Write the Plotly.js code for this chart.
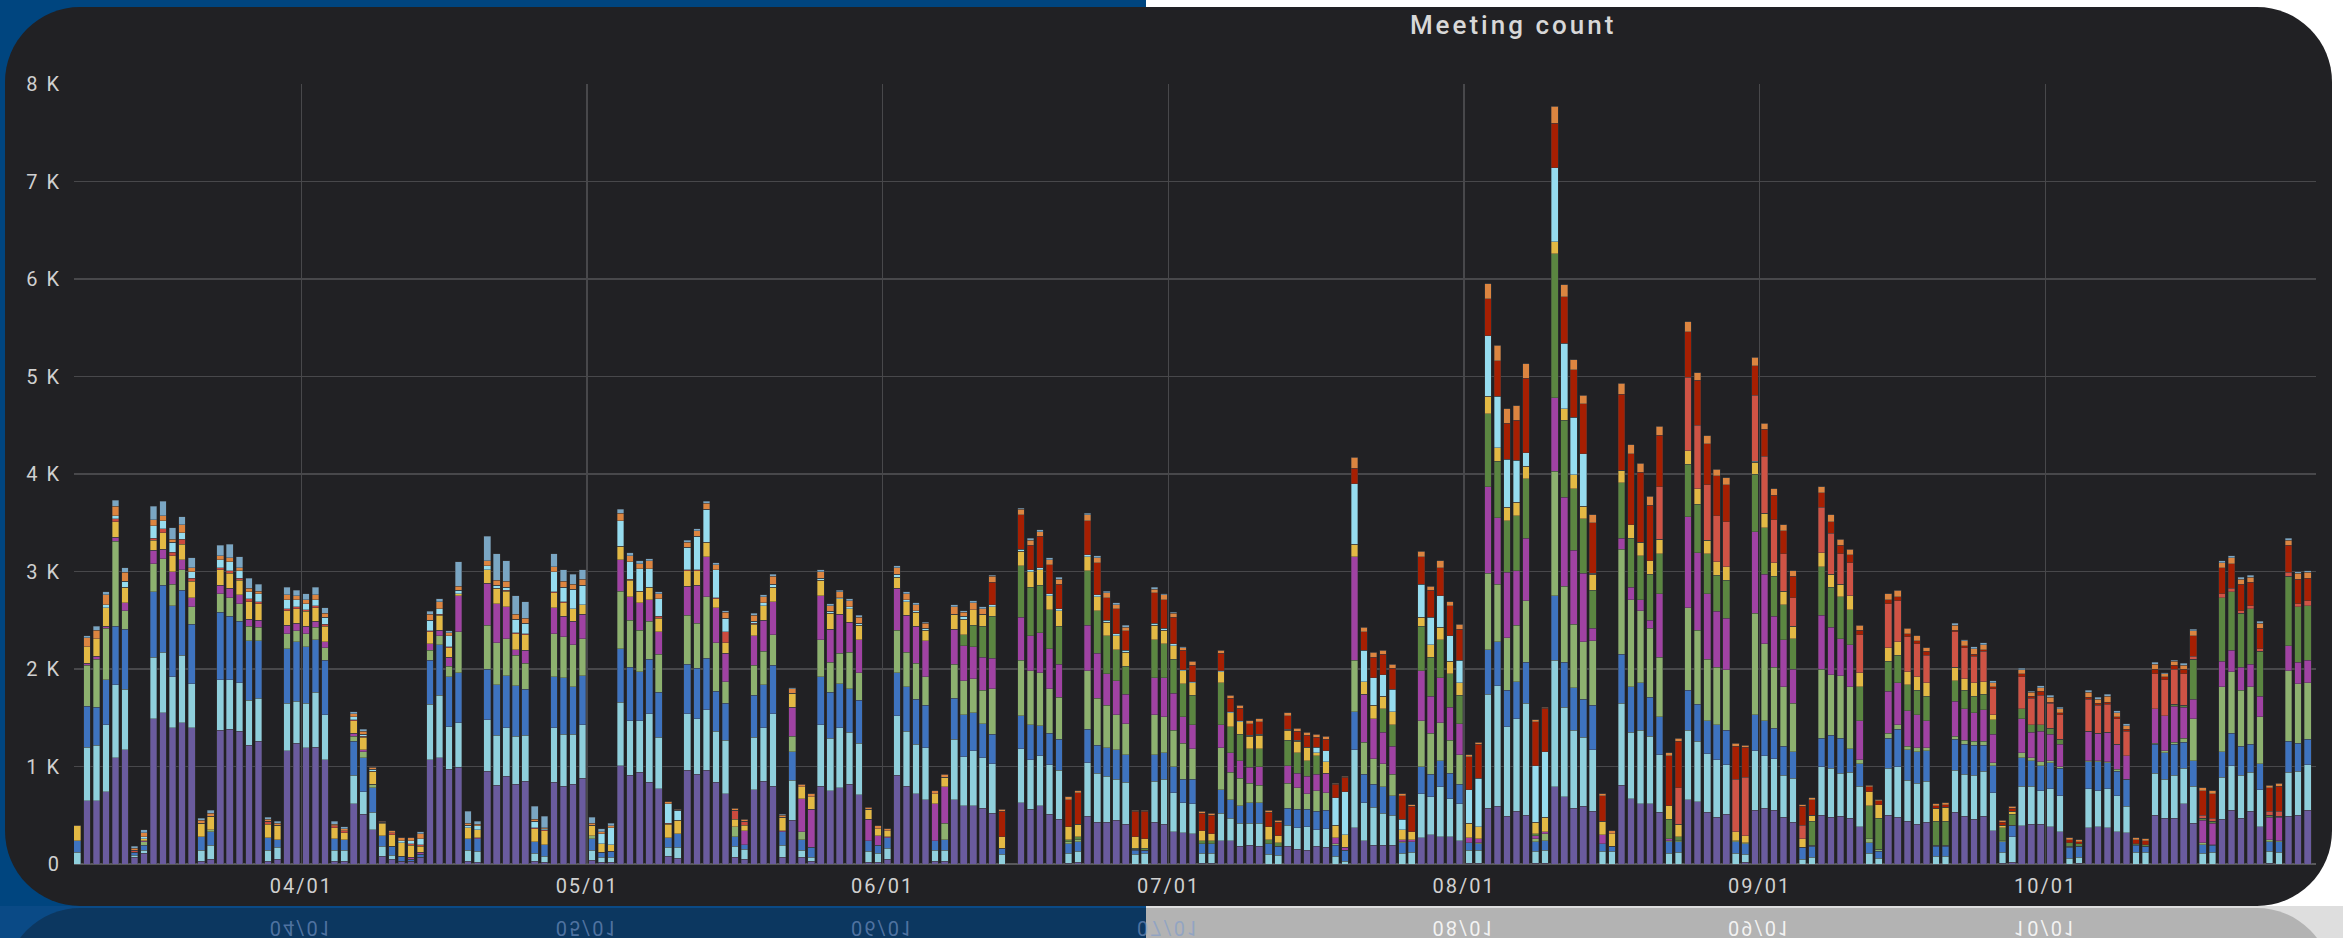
<!DOCTYPE html>
<html>
<head>
<meta charset="utf-8">
<script src="https://cdn.plot.ly/plotly-3.0.1.min.js"></script>
<style>
html,body{margin:0;padding:0;width:2343px;height:938px;overflow:hidden;}
body{position:relative;background:linear-gradient(to right,#00457f 0,#00457f 1146px,#ffffff 1146px,#ffffff 100%);font-family:Roboto,sans-serif;}
#band{position:absolute;left:0;top:906px;width:2343px;height:32px;background:linear-gradient(to right,#0a4a86 0,#0a4a86 1146px,#dedede 1146px,#dedede 100%);}
#refl{position:absolute;left:5px;top:908px;width:2327px;height:80px;border-radius:75px 75px 0 0;background:linear-gradient(to right,#0c3760 0,#0c3760 1141px,#b3b3b3 1141px,#b3b3b3 100%);}
#card{position:absolute;left:5px;top:7px;width:2327px;height:899px;border-radius:75px;background:#212124;}
#chart{position:absolute;left:0;top:0;width:2343px;height:938px;}
#chart .xtick text, #chart .ytick text{letter-spacing:2px;}
#chart .gtitle{letter-spacing:3px;}
.mir{position:absolute;transform:scaleY(-1);white-space:nowrap;font-family:Roboto,sans-serif;letter-spacing:2px;}
</style>
</head>
<body>
<div id="band"></div>
<div id="refl"></div>
<div id="card"></div>
<div id="chart"></div>
<script>
// First day of the daily series (one value per day)
const START_DATE = [2020, 2, 8]; // 2020-03-08

// Daily meeting counts per stacked series (bottom to top)
const purple = [
  0,650,650,740,1090,1170,70,110,1490,1550,1400,1450,1400,30,50,1370,1380,1360,1220,1260,30,50,1160,1240, // Mar 8-31
  1190,1200,1070,30,30,620,510,350,80,50,30,30,70,1070,1090,970,990,30,20,950,810,900,820,850,30,20,840,800,820,880, // Apr
  40,20,20,1010,910,940,840,770,80,60,960,920,960,840,720,70,50,760,850,800,70,450,70,30,800,750,780,820,710,20,20, // May
  50,910,800,720,660,30,30,660,600,600,570,520,0,0,630,560,600,510,460,10,20,490,430,430,450,410,0,0,430,410, // Jun
  330,320,310,10,10,240,240,180,190,180,0,0,180,150,140,180,170,0,0,370,240,190,190,190,0,0,270,300,280,280,240, // Jul
  10,10,570,590,490,540,500,10,10,790,690,570,590,540,0,0,810,670,620,620,530,0,0,660,640,530,480,510,0,20,550, // Aug
  570,550,480,430,0,0,500,480,490,470,380,0,0,500,480,440,410,430,0,0,530,490,460,490,340,10,20,390,410,410, // Sep
  380,330,0,10,370,380,370,330,320,0,0,500,470,470,620,420,0,0,460,550,470,540,380,10,0,490,500,550 // Oct 1-28
];
const paleCyan = [
  120,550,570,690,750,620,20,30,630,620,520,690,450,110,140,520,510,500,460,440,110,120,490,430,
  460,560,460,110,110,290,230,180,100,40,0,0,0,570,640,440,460,110,110,530,510,500,490,470,80,60,560,530,510,550,
  100,50,50,650,560,530,700,530,90,110,580,570,620,520,550,110,100,540,550,740,120,410,70,40,630,540,620,530,530,110,90,
  110,610,560,510,530,110,110,620,500,560,520,510,100,0,550,510,510,510,500,100,110,550,500,470,420,430,100,110,420,460,
  400,310,310,100,100,280,230,240,230,240,100,90,220,220,240,170,190,80,30,800,390,390,330,310,110,120,450,390,510,390,380,
  130,130,1170,1240,920,950,1150,120,130,1300,920,800,710,630,130,130,840,680,750,690,590,110,120,710,620,600,590,510,110,80,610,
  540,530,430,450,50,70,500,500,440,470,420,110,60,480,520,420,420,420,80,80,430,430,450,460,390,110,260,410,390,340,
  390,370,60,60,400,370,400,370,270,120,120,430,400,440,360,380,110,120,430,460,440,400,380,120,120,450,450,470
];
const blue = [
  120,420,390,460,600,620,30,50,670,690,730,670,610,140,140,690,650,630,610,590,130,80,560,610,
  580,540,560,120,110,350,350,250,110,90,50,20,30,450,520,510,510,120,130,520,520,530,520,470,120,120,520,580,490,500,
  120,50,60,550,550,500,560,460,100,140,510,520,530,410,380,100,50,430,440,500,140,290,110,100,490,470,450,450,440,110,80,
  110,440,460,460,440,100,110,420,430,390,350,300,60,0,340,360,310,320,320,100,100,340,290,290,300,280,40,30,270,270,
  270,240,250,100,100,240,190,180,210,210,110,90,170,190,180,190,190,110,110,390,290,240,270,200,110,110,280,230,270,260,200,
  80,70,460,450,370,380,420,100,100,660,460,440,390,460,80,50,500,470,490,400,390,120,110,410,380,340,360,350,120,110,370,
  360,310,300,270,120,110,290,340,360,240,230,110,70,310,380,310,320,310,100,100,320,310,310,270,280,110,110,290,260,260,
  270,280,110,110,280,300,270,250,280,70,60,300,270,320,270,260,90,70,260,330,300,290,270,100,110,320,290,260
];
const lightGreen = [
  0,420,490,530,870,190,0,40,290,270,220,210,180,0,20,190,190,180,150,140,0,0,150,110,
  130,130,130,0,0,50,60,40,0,0,0,0,0,100,90,110,420,0,0,450,430,380,310,270,0,0,440,420,430,380,
  30,0,0,590,480,430,390,390,0,0,500,460,630,500,220,100,0,310,340,310,0,160,80,0,380,310,310,370,280,0,0,
  0,440,350,370,290,0,170,350,350,350,340,470,0,0,570,550,540,460,430,20,20,600,480,440,360,320,10,0,410,370,
  370,370,310,0,0,430,280,280,200,180,0,0,260,220,160,210,180,20,0,530,330,260,240,220,10,0,470,420,390,340,300,
  0,10,780,590,540,580,630,30,70,1280,780,650,590,660,0,0,1080,890,740,710,610,10,10,850,760,630,590,620,10,10,1040,
  790,630,610,500,0,10,710,620,640,640,40,40,20,50,50,40,40,30,10,10,30,40,40,40,30,10,10,50,30,40,
  20,20,10,0,10,10,10,20,0,10,0,10,20,20,40,430,20,10,670,630,570,590,480,20,10,720,610,580
];
const magenta = [
  0,20,30,20,40,80,0,10,140,100,130,100,90,0,0,90,100,90,70,70,0,0,90,80,
  80,60,60,0,0,30,20,0,0,0,0,20,20,70,60,90,370,0,10,430,400,330,60,130,0,0,270,210,240,250,
  0,0,0,320,240,280,220,230,0,0,300,390,410,360,290,0,140,300,320,340,10,300,340,390,450,340,400,310,340,220,100,
  10,430,380,380,370,380,370,360,360,330,340,310,0,0,440,360,410,410,340,0,0,470,460,320,350,300,0,0,380,400,
  380,270,250,0,0,240,200,180,160,190,0,0,180,150,180,170,200,60,30,1060,490,410,320,290,20,20,510,380,460,340,320,
  50,40,890,680,670,560,640,30,20,750,910,760,700,130,90,0,110,130,110,80,650,20,0,930,790,670,570,530,0,0,840,
  710,520,480,350,0,0,550,490,380,430,400,0,0,430,430,360,340,280,0,0,360,320,290,320,290,0,0,350,260,310,
  270,230,0,0,300,280,300,260,240,0,0,350,360,370,320,200,230,220,260,220,240,230,210,230,240,260,220,230
];
const darkGreen = [
  0,0,0,0,0,0,0,0,0,0,0,0,0,0,0,0,0,0,0,0,0,0,0,0,
  0,0,0,0,0,0,0,0,0,0,0,0,0,0,0,0,0,0,0,0,0,0,0,0,0,0,0,0,0,0,
  0,0,0,0,0,0,0,0,0,0,0,0,0,0,0,0,0,0,0,0,0,0,0,0,0,0,0,0,0,0,0,
  0,0,0,0,0,0,0,0,110,220,320,430,0,0,530,500,490,400,390,20,30,560,440,390,320,290,10,20,390,350,
  350,340,300,30,30,430,270,270,190,180,40,40,260,210,160,190,0,0,0,0,0,0,240,220,0,0,460,400,390,340,290,
  0,0,750,580,530,560,610,20,0,1480,790,630,560,390,0,0,570,500,450,470,410,200,40,540,500,410,370,390,0,0,590,
  480,410,360,310,0,250,500,410,430,360,350,340,320,310,280,270,250,250,250,250,210,190,170,160,150,130,110,100,80,70,
  60,50,40,30,0,0,0,0,0,10,20,0,0,20,20,410,20,20,650,600,550,570,460,20,10,710,570,560
];
const yellow = [
  150,170,180,190,160,160,0,20,100,170,160,160,170,140,140,160,150,150,180,170,140,140,150,150,
  150,140,160,110,70,130,130,130,130,120,140,120,60,120,150,100,20,110,80,140,160,160,160,160,130,140,150,140,130,100,
  110,90,70,140,170,120,130,140,140,140,160,150,150,90,110,80,60,120,150,150,140,140,120,130,160,160,160,140,150,100,70,
  60,110,140,140,110,100,100,150,160,160,120,100,120,0,150,160,160,140,160,130,130,140,140,140,140,140,120,100,150,140,
  140,130,130,100,70,110,140,130,130,140,130,70,100,120,130,30,120,130,130,130,130,140,130,130,100,80,90,130,130,130,130,
  150,120,180,140,140,140,130,120,150,120,120,140,130,160,140,130,130,140,140,140,150,140,130,140,160,140,140,140,90,70,120,
  150,140,140,130,90,60,140,130,130,140,140,140,140,140,140,130,140,140,130,140,140,120,140,130,50,30,30,0,0,0,
  0,0,0,0,0,0,0,0,0,0,0,0,0,0,0,0,0,0,0,0,0,0,0,0,0,0,0,0
];
const red = [
  0,0,0,0,30,0,20,0,20,40,40,50,30,0,0,20,30,20,30,20,30,10,20,20,
  20,20,20,20,20,10,10,0,10,20,0,20,20,10,10,10,0,0,0,0,0,10,10,10,10,10,10,10,0,0,
  0,0,0,0,10,0,0,20,10,0,10,10,0,10,110,90,40,10,0,0,0,0,0,0,0,0,0,0,0,0,0,
  0,0,0,0,0,0,0,0,0,0,0,0,0,0,0,0,0,0,0,0,0,0,0,0,0,0,0,0,0,0,
  0,0,0,0,0,0,0,0,0,0,0,0,0,0,0,0,0,0,0,0,0,0,0,0,0,0,0,0,0,0,0,
  0,0,0,0,0,0,0,0,0,0,0,0,0,0,0,0,0,0,0,0,0,0,0,0,0,0,0,0,0,0,0,
  0,0,0,0,0,0,0,0,0,0,0,0,0,0,0,0,0,0,0,0,0,0,0,0,0,0,0,0,0,0,
  0,0,0,0,0,0,0,0,0,0,0,0,0,0,0,0,0,0,0,0,0,0,0,0,0,0,0,0
];
const lightSky = [
  0,0,0,30,30,60,0,20,130,80,100,70,70,0,0,80,90,80,70,80,0,0,90,70,
  60,60,70,0,0,30,20,20,0,0,20,30,60,110,60,110,40,30,40,40,30,30,140,110,70,10,210,150,200,200,
  0,100,170,260,180,230,190,180,200,100,230,340,340,290,140,0,0,20,30,30,0,0,0,0,20,20,10,20,20,0,0,
  0,30,20,20,20,0,0,0,30,0,0,20,0,0,20,20,20,20,20,0,0,20,20,20,20,20,0,0,20,20,
  20,10,10,0,0,10,10,10,10,10,0,0,10,10,10,60,110,280,440,620,320,280,220,230,110,0,340,280,320,260,230,
  340,500,620,530,490,430,140,580,670,760,670,590,540,10,0,0,0,0,0,0,0,0,0,0,0,0,0,0,0,0,10,
  0,0,0,0,0,0,0,0,0,0,0,0,0,0,0,0,0,0,0,0,0,0,0,0,0,0,0,0,0,0,
  0,0,0,0,0,0,0,0,0,0,0,0,0,0,0,0,0,0,0,0,0,0,0,0,0,0,0,0
];
const coral = [
  0,0,0,0,0,0,0,0,0,0,0,0,0,0,0,0,0,0,0,0,0,0,0,0,
  0,0,0,0,0,0,0,0,0,0,0,0,0,0,0,0,0,0,0,0,0,0,0,0,0,0,0,0,0,0,
  0,0,0,0,0,0,0,0,0,0,0,0,0,0,0,0,0,0,0,0,0,0,0,0,0,0,0,0,0,0,0,
  0,0,0,0,0,0,0,0,0,0,0,0,0,0,0,0,0,0,0,0,0,0,0,0,0,0,0,0,0,0,
  0,0,0,0,0,0,0,0,0,0,0,0,0,0,0,0,0,0,0,0,0,0,0,0,0,0,0,0,0,0,0,
  0,0,0,0,0,0,0,0,0,0,0,0,0,0,0,0,0,0,0,0,540,0,370,750,650,570,470,460,540,600,680,
  580,440,380,290,140,0,470,420,310,340,390,0,0,450,420,360,340,280,0,0,360,320,270,310,270,0,0,330,270,300,
  260,250,0,0,330,290,290,260,250,0,0,360,370,360,320,30,30,30,40,40,30,30,30,40,50,40,30,50
];
const darkRed = [
  0,0,0,0,0,0,0,0,0,0,0,0,0,0,0,0,0,0,0,0,0,0,0,0,
  0,0,0,0,0,0,0,0,0,0,0,0,0,0,0,0,0,0,0,0,0,0,0,0,0,0,0,0,0,0,
  0,0,0,0,0,0,0,0,0,0,0,0,0,0,0,0,0,0,0,0,0,0,0,0,0,0,0,0,0,0,0,
  0,0,0,0,0,0,0,0,0,0,0,230,260,0,350,250,320,300,250,280,320,350,330,230,260,200,260,280,310,290,
  270,200,170,180,190,180,140,130,120,130,150,140,140,90,120,100,120,140,150,160,190,210,210,220,240,260,280,280,290,310,320,
  340,350,380,360,370,410,760,450,450,460,480,490,510,520,260,0,780,730,720,570,530,510,480,470,460,420,410,380,340,310,300,
  280,250,240,220,190,160,150,120,90,80,50,50,40,40,40,30,30,40,30,30,20,20,20,20,20,30,30,30,20,40,
  10,20,30,20,20,20,20,20,20,40,40,50,30,40,50,210,250,250,270,250,270,240,210,240,260,280,250,230
];
const orange = [
  10,90,90,100,100,90,20,40,60,50,30,80,40,30,30,40,40,30,40,30,20,20,50,40,
  40,50,40,20,20,30,30,20,10,20,30,30,50,60,70,30,40,20,20,50,50,60,50,50,20,10,50,60,50,60,
  20,20,20,80,60,50,80,50,20,10,50,60,60,50,60,20,20,60,60,80,20,50,30,30,70,60,60,60,60,20,30,
  20,70,60,60,50,30,30,80,40,70,60,60,20,0,60,50,50,50,50,30,20,60,50,50,40,40,10,10,40,50,
  40,30,40,20,20,30,30,30,30,30,20,20,30,30,30,30,30,10,10,110,50,50,40,40,20,20,60,40,70,40,50,
  20,20,150,160,150,150,150,20,10,170,120,100,90,80,20,30,110,90,90,90,90,30,30,100,80,80,70,70,30,20,90,
  60,70,60,60,20,20,60,70,60,60,50,20,10,60,70,60,50,40,20,20,50,50,60,50,40,20,20,40,40,40,
  50,40,20,20,50,40,60,40,40,20,20,50,30,40,40,50,30,30,50,60,50,50,50,30,30,50,60,60
];
const steelBlue = [
  0,20,40,30,60,50,20,30,140,150,120,80,100,20,30,110,140,110,100,70,20,20,80,60,
  60,80,60,30,20,20,20,0,0,0,0,0,20,30,30,20,250,120,30,250,270,210,190,170,130,120,130,120,100,100,
  60,30,30,40,30,30,20,20,0,0,20,20,20,20,20,0,0,20,20,20,10,10,0,0,20,20,20,20,20,0,0,
  0,20,20,20,10,0,0,20,20,20,20,10,0,0,10,20,20,20,20,0,0,20,20,20,20,20,0,0,20,10,
  10,10,0,0,0,0,0,0,0,0,0,0,0,0,0,0,0,0,0,0,0,0,0,0,0,0,0,0,0,0,0,
  0,0,0,0,0,0,0,0,0,0,0,0,0,0,0,0,0,0,0,0,0,0,0,0,0,0,0,0,0,0,0,
  0,0,0,0,0,0,0,0,0,0,0,0,0,0,0,0,0,0,0,0,20,10,20,20,20,0,0,20,10,20,
  20,20,0,0,20,20,20,20,20,0,0,20,10,10,20,20,0,0,20,20,20,20,20,0,0,20,20,20
];

// Y tick labels
const yTickVals = [0,1000,2000,3000,4000,5000,6000,7000,8000];
const yTickText = ['0','1 K','2 K','3 K','4 K','5 K','6 K','7 K','8 K'];

// Series definitions: order = stacking order bottom to top
const seriesList = [
  {name:'Series 1', y:purple, color:'#6a5b9e'},
  {name:'Series 2', y:paleCyan, color:'#8fcfdc'},
  {name:'Series 3', y:blue, color:'#3e73bf'},
  {name:'Series 4', y:lightGreen, color:'#8db16f'},
  {name:'Series 5', y:magenta, color:'#a042a3'},
  {name:'Series 6', y:darkGreen, color:'#5b8641'},
  {name:'Series 7', y:yellow, color:'#e3b944'},
  {name:'Series 8', y:red, color:'#cc4a3e'},
  {name:'Series 9', y:lightSky, color:'#96dcef'},
  {name:'Series 10', y:coral, color:'#cf5345'},
  {name:'Series 11', y:darkRed, color:'#a61f02'},
  {name:'Series 12', y:orange, color:'#dc8540'},
  {name:'Series 13', y:steelBlue, color:'#7aa6c3'}
];

const dates = purple.map((_, i) => {
  const d = new Date(Date.UTC(START_DATE[0], START_DATE[1], START_DATE[2] + i));
  return d.toISOString().slice(0, 10);
});

const traces = seriesList.map(s => ({
  type: 'bar',
  name: s.name,
  x: dates,
  y: s.y,
  xperiod: 86400000,
  xperiodalignment: 'middle',
  marker: {color: s.color, line: {color: 'rgba(60,60,62,0.7)', width: 0.6}},
  hoverinfo: 'skip'
}));

const gridColor = '#48484b';
const tickFont = {family: 'Roboto, sans-serif', size: 20, color: '#d0d0d0'};

const layout = {
  width: 2343,
  height: 938,
  autosize: false,
  barmode: 'stack',
  bargap: 0.3,
  showlegend: false,
  paper_bgcolor: 'rgba(0,0,0,0)',
  plot_bgcolor: 'rgba(0,0,0,0)',
  margin: {l: 74, r: 27, t: 84, b: 74, pad: 0},
  title: {
    text: 'Meeting count',
    font: {family: 'Roboto, sans-serif', size: 26, color: '#d8d8d8', weight: 500},
    xref: 'container', x: 0.6458, xanchor: 'center',
    yref: 'container', y: 0.9733, yanchor: 'middle'
  },
  xaxis: {
    type: 'date',
    range: ['2020-03-08 03:40', '2020-10-29 09:00'],
    tick0: '2020-01-01',
    dtick: 'M1',
    tickformat: '%m/%d',
    showgrid: true,
    gridcolor: gridColor,
    gridwidth: 1.5,
    ticks: '',
    ticklabelstandoff: 8,
    showline: false,
    zeroline: false,
    tickfont: tickFont,
    fixedrange: true
  },
  yaxis: {
    range: [0, 8000],
    tickvals: yTickVals,
    ticktext: yTickText,
    showgrid: true,
    gridcolor: gridColor,
    gridwidth: 1.5,
    ticks: '',
    ticklabelstandoff: 12,
    zeroline: true,
    zerolinecolor: '#58585b',
    zerolinewidth: 1.5,
    showline: false,
    tickfont: tickFont,
    fixedrange: true
  }
};

Plotly.newPlot('chart', traces, layout, {staticPlot: true, displayModeBar: false}).then(() => {
  // mirrored reflection of the date labels below the card
  const mirrorY = 907;
  document.querySelectorAll('#chart .xtick text').forEach(t => {
    const r = t.getBoundingClientRect();
    const d = document.createElement('div');
    d.className = 'mir';
    d.textContent = t.textContent;
    d.style.left = r.left + 'px';
    d.style.top = (2 * mirrorY - r.bottom) + 'px';
    d.style.height = r.height + 'px';
    d.style.lineHeight = r.height + 'px';
    d.style.fontSize = '20px';
    d.style.color = r.left < 1146 ? 'rgba(125,155,205,0.6)' : 'rgba(255,255,255,0.85)';
    document.body.appendChild(d);
  });
});
</script>
</body>
</html>
